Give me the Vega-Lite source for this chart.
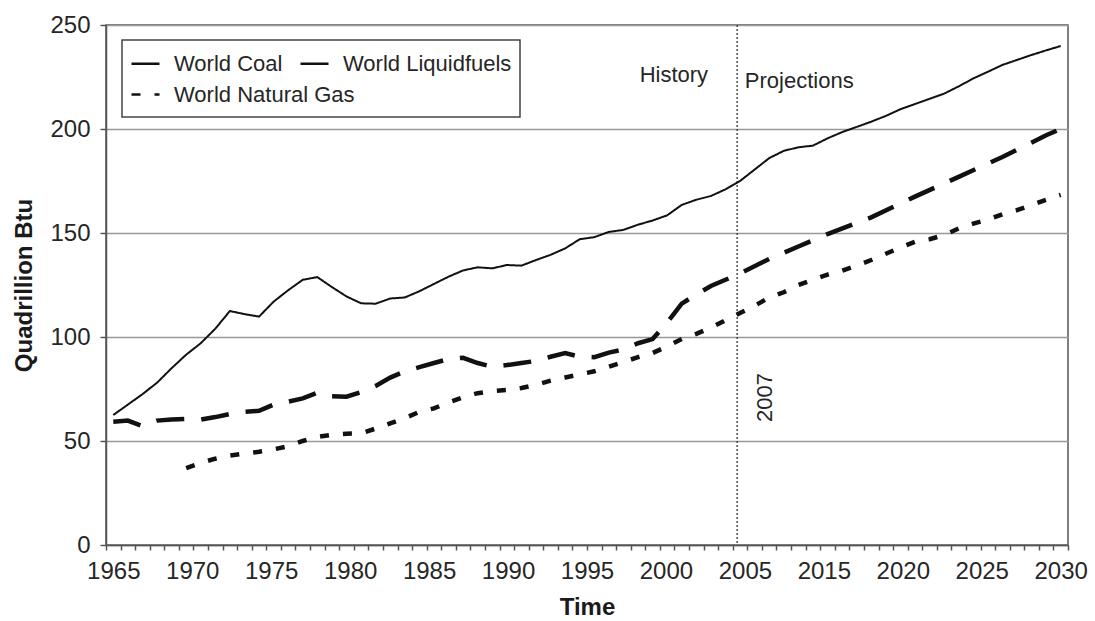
{
  "$schema": "https://vega.github.io/schema/vega-lite/v6.json",
  "width": 962,
  "height": 520,
  "autosize": {"type": "none"},
  "padding": {"left": 106, "top": 25, "right": 27, "bottom": 76},
  "background": "white",
  "config": {
    "font": "Liberation Sans",
    "view": {"stroke": "#555", "strokeWidth": 1.5},
    "axis": {
      "domainColor": "#555", "domainWidth": 1.5, "tickColor": "#555", "tickWidth": 1.5,
      "labelFont": "Liberation Sans", "labelFontSize": 24, "labelColor": "#262626",
      "titleFont": "Liberation Sans", "titleFontSize": 24, "titleFontWeight": "bold", "titleColor": "#1a1a1a",
      "gridColor": "#999", "gridWidth": 1.5
    },
    "legend": {
      "orient": "none", "direction": "horizontal", "strokeWidth": 1.5,
      "columnPadding": 12, "rowPadding": 5, "padding": 8,
      "labelFont": "Liberation Sans", "labelFontSize": 22, "labelColor": "#262626", "labelOffset": 13, "labelLimit": 400,
      "symbolType": "stroke", "symbolSize": 784, "symbolStrokeWidth": 2.5, "symbolStrokeColor": "#111"
    }
  },
  "datasets": {
    "energy": [
      {"year":1965,"series":"World Liquidfuels","value":62.5},{"year":1966,"series":"World Liquidfuels","value":67.5},{"year":1967,"series":"World Liquidfuels","value":72.5},{"year":1968,"series":"World Liquidfuels","value":78},{"year":1969,"series":"World Liquidfuels","value":85},{"year":1970,"series":"World Liquidfuels","value":91.5},{"year":1971,"series":"World Liquidfuels","value":97},{"year":1972,"series":"World Liquidfuels","value":104},{"year":1973,"series":"World Liquidfuels","value":112.5},{"year":1974,"series":"World Liquidfuels","value":111},{"year":1975,"series":"World Liquidfuels","value":109.8},{"year":1976,"series":"World Liquidfuels","value":117},{"year":1977,"series":"World Liquidfuels","value":122.5},{"year":1978,"series":"World Liquidfuels","value":127.5},{"year":1979,"series":"World Liquidfuels","value":128.8},{"year":1980,"series":"World Liquidfuels","value":124},{"year":1981,"series":"World Liquidfuels","value":119.5},{"year":1982,"series":"World Liquidfuels","value":116.2},{"year":1983,"series":"World Liquidfuels","value":116},{"year":1984,"series":"World Liquidfuels","value":118.5},{"year":1985,"series":"World Liquidfuels","value":119},{"year":1986,"series":"World Liquidfuels","value":122},{"year":1987,"series":"World Liquidfuels","value":125.5},{"year":1988,"series":"World Liquidfuels","value":129},{"year":1989,"series":"World Liquidfuels","value":132},{"year":1990,"series":"World Liquidfuels","value":133.5},{"year":1991,"series":"World Liquidfuels","value":133},{"year":1992,"series":"World Liquidfuels","value":134.6},{"year":1993,"series":"World Liquidfuels","value":134.3},{"year":1994,"series":"World Liquidfuels","value":137},{"year":1995,"series":"World Liquidfuels","value":139.5},{"year":1996,"series":"World Liquidfuels","value":142.6},{"year":1997,"series":"World Liquidfuels","value":147},{"year":1998,"series":"World Liquidfuels","value":148},{"year":1999,"series":"World Liquidfuels","value":150.5},{"year":2000,"series":"World Liquidfuels","value":151.5},{"year":2001,"series":"World Liquidfuels","value":154},{"year":2002,"series":"World Liquidfuels","value":156},{"year":2003,"series":"World Liquidfuels","value":158.5},{"year":2004,"series":"World Liquidfuels","value":163.5},{"year":2005,"series":"World Liquidfuels","value":166},{"year":2006,"series":"World Liquidfuels","value":167.8},{"year":2007,"series":"World Liquidfuels","value":171},{"year":2008,"series":"World Liquidfuels","value":175},{"year":2009,"series":"World Liquidfuels","value":180.5},{"year":2010,"series":"World Liquidfuels","value":186},{"year":2011,"series":"World Liquidfuels","value":189.5},{"year":2012,"series":"World Liquidfuels","value":191.2},{"year":2013,"series":"World Liquidfuels","value":192},{"year":2014,"series":"World Liquidfuels","value":195.5},{"year":2015,"series":"World Liquidfuels","value":198.5},{"year":2016,"series":"World Liquidfuels","value":201},{"year":2017,"series":"World Liquidfuels","value":203.5},{"year":2018,"series":"World Liquidfuels","value":206.3},{"year":2019,"series":"World Liquidfuels","value":209.5},{"year":2020,"series":"World Liquidfuels","value":212},{"year":2021,"series":"World Liquidfuels","value":214.5},{"year":2022,"series":"World Liquidfuels","value":217},{"year":2023,"series":"World Liquidfuels","value":220.5},{"year":2024,"series":"World Liquidfuels","value":224.3},{"year":2025,"series":"World Liquidfuels","value":227.5},{"year":2026,"series":"World Liquidfuels","value":230.8},{"year":2027,"series":"World Liquidfuels","value":233.2},{"year":2028,"series":"World Liquidfuels","value":235.6},{"year":2029,"series":"World Liquidfuels","value":237.8},{"year":2030,"series":"World Liquidfuels","value":239.9},
      {"year":1965,"series":"World Coal","value":59.3},{"year":1966,"series":"World Coal","value":59.8},{"year":1967,"series":"World Coal","value":57.2},{"year":1968,"series":"World Coal","value":59.8},{"year":1969,"series":"World Coal","value":60.3},{"year":1970,"series":"World Coal","value":60.6},{"year":1971,"series":"World Coal","value":60.3},{"year":1972,"series":"World Coal","value":61.5},{"year":1973,"series":"World Coal","value":63},{"year":1974,"series":"World Coal","value":64},{"year":1975,"series":"World Coal","value":64.5},{"year":1976,"series":"World Coal","value":67.5},{"year":1977,"series":"World Coal","value":68.9},{"year":1978,"series":"World Coal","value":70.5},{"year":1979,"series":"World Coal","value":73.2},{"year":1980,"series":"World Coal","value":71.5},{"year":1981,"series":"World Coal","value":71.3},{"year":1982,"series":"World Coal","value":73.5},{"year":1983,"series":"World Coal","value":76.5},{"year":1984,"series":"World Coal","value":80.5},{"year":1985,"series":"World Coal","value":83.5},{"year":1986,"series":"World Coal","value":85.5},{"year":1987,"series":"World Coal","value":87.5},{"year":1988,"series":"World Coal","value":89.4},{"year":1989,"series":"World Coal","value":90},{"year":1990,"series":"World Coal","value":87.5},{"year":1991,"series":"World Coal","value":85.7},{"year":1992,"series":"World Coal","value":86.5},{"year":1993,"series":"World Coal","value":87.5},{"year":1994,"series":"World Coal","value":88.5},{"year":1995,"series":"World Coal","value":90.5},{"year":1996,"series":"World Coal","value":92.3},{"year":1997,"series":"World Coal","value":90.5},{"year":1998,"series":"World Coal","value":90.3},{"year":1999,"series":"World Coal","value":92.5},{"year":2000,"series":"World Coal","value":94},{"year":2001,"series":"World Coal","value":97},{"year":2002,"series":"World Coal","value":99},{"year":2003,"series":"World Coal","value":107},{"year":2004,"series":"World Coal","value":116},{"year":2005,"series":"World Coal","value":120.5},{"year":2006,"series":"World Coal","value":124.5},{"year":2007,"series":"World Coal","value":127.5},{"year":2008,"series":"World Coal","value":130.6},{"year":2010,"series":"World Coal","value":137.5},{"year":2012,"series":"World Coal","value":143.5},{"year":2014,"series":"World Coal","value":149.5},{"year":2017,"series":"World Coal","value":157.5},{"year":2020,"series":"World Coal","value":167.5},{"year":2023,"series":"World Coal","value":177},{"year":2026,"series":"World Coal","value":186.5},{"year":2029,"series":"World Coal","value":197},{"year":2030,"series":"World Coal","value":200},
      {"year":1970,"series":"World Natural Gas","value":37},{"year":1971,"series":"World Natural Gas","value":39.5},{"year":1972,"series":"World Natural Gas","value":41.5},{"year":1973,"series":"World Natural Gas","value":43},{"year":1974,"series":"World Natural Gas","value":44},{"year":1975,"series":"World Natural Gas","value":44.8},{"year":1976,"series":"World Natural Gas","value":46},{"year":1977,"series":"World Natural Gas","value":47.5},{"year":1978,"series":"World Natural Gas","value":50},{"year":1979,"series":"World Natural Gas","value":52},{"year":1980,"series":"World Natural Gas","value":53},{"year":1981,"series":"World Natural Gas","value":53.5},{"year":1982,"series":"World Natural Gas","value":53.7},{"year":1983,"series":"World Natural Gas","value":56},{"year":1984,"series":"World Natural Gas","value":58.5},{"year":1985,"series":"World Natural Gas","value":61},{"year":1986,"series":"World Natural Gas","value":64},{"year":1987,"series":"World Natural Gas","value":65.7},{"year":1988,"series":"World Natural Gas","value":68.5},{"year":1989,"series":"World Natural Gas","value":71},{"year":1990,"series":"World Natural Gas","value":73},{"year":1991,"series":"World Natural Gas","value":74},{"year":1992,"series":"World Natural Gas","value":74.5},{"year":1993,"series":"World Natural Gas","value":75.5},{"year":1994,"series":"World Natural Gas","value":77},{"year":1995,"series":"World Natural Gas","value":79},{"year":1996,"series":"World Natural Gas","value":80.5},{"year":1997,"series":"World Natural Gas","value":82},{"year":1998,"series":"World Natural Gas","value":83.5},{"year":1999,"series":"World Natural Gas","value":85.7},{"year":2000,"series":"World Natural Gas","value":88},{"year":2001,"series":"World Natural Gas","value":90.3},{"year":2002,"series":"World Natural Gas","value":92.3},{"year":2003,"series":"World Natural Gas","value":95.5},{"year":2004,"series":"World Natural Gas","value":99},{"year":2005,"series":"World Natural Gas","value":101.5},{"year":2006,"series":"World Natural Gas","value":104.5},{"year":2007,"series":"World Natural Gas","value":108},{"year":2008,"series":"World Natural Gas","value":111.5},{"year":2009,"series":"World Natural Gas","value":115},{"year":2010,"series":"World Natural Gas","value":119},{"year":2011,"series":"World Natural Gas","value":121.5},{"year":2012,"series":"World Natural Gas","value":125},{"year":2013,"series":"World Natural Gas","value":127.5},{"year":2014,"series":"World Natural Gas","value":130},{"year":2015,"series":"World Natural Gas","value":131.9},{"year":2016,"series":"World Natural Gas","value":134.3},{"year":2017,"series":"World Natural Gas","value":137},{"year":2018,"series":"World Natural Gas","value":140},{"year":2019,"series":"World Natural Gas","value":143},{"year":2020,"series":"World Natural Gas","value":145.8},{"year":2021,"series":"World Natural Gas","value":147},{"year":2022,"series":"World Natural Gas","value":149},{"year":2023,"series":"World Natural Gas","value":152.2},{"year":2024,"series":"World Natural Gas","value":154.5},{"year":2025,"series":"World Natural Gas","value":156.5},{"year":2026,"series":"World Natural Gas","value":159},{"year":2027,"series":"World Natural Gas","value":161},{"year":2028,"series":"World Natural Gas","value":163.5},{"year":2029,"series":"World Natural Gas","value":166},{"year":2030,"series":"World Natural Gas","value":168.3}
    ],
    "divider": [{"year": 2007.8}],
    "notes": [
      {"label": "History", "year": 2003.46, "value": 222.6},
      {"label": "Projections", "year": 2012.06, "value": 219.7}
    ],
    "yearNote": [{"label": "2007", "year": 2009.7, "value": 70.9}]
  },
  "layer": [
    {
      "data": {"name": "divider"},
      "mark": {"type": "rule", "strokeDash": [2, 2], "color": "#333", "strokeWidth": 1.3},
      "encoding": {
        "x": {
          "field": "year", "type": "quantitative",
          "scale": {"domain": [1964.5, 2030.5], "nice": false, "zero": false},
          "axis": {
            "orient": "bottom",
            "values": [1965, 1970.41667, 1975.83333, 1981.25, 1986.66667, 1992.08333, 1997.5, 2002.91667, 2008.33333, 2013.75, 2019.16667, 2024.58333, 2030],
            "labelExpr": "['1965','1970','1975','1980','1985','1990','1995','2000','2005','2015','2020','2025','2030'][round((datum.value-1965)*12/65)]",
            "ticks": false, "domain": false, "grid": false,
            "labelPadding": 14, "labelFlush": false, "labelOverlap": false,
            "title": "Time", "titlePadding": 12
          }
        }
      }
    },
    {
      "data": {"name": "energy"},
      "transform": [{"filter": "datum.series !== 'World Natural Gas'"}],
      "mark": {"type": "line", "strokeCap": "butt", "color": "#111"},
      "encoding": {
        "x": {
          "field": "year", "type": "quantitative",
          "scale": {"domain": [1964.5, 2030.5], "nice": false, "zero": false},
          "axis": {
            "orient": "bottom",
            "values": [1964.5,1965.5,1966.5,1967.5,1968.5,1969.5,1970.5,1971.5,1972.5,1973.5,1974.5,1975.5,1976.5,1977.5,1978.5,1979.5,1980.5,1981.5,1982.5,1983.5,1984.5,1985.5,1986.5,1987.5,1988.5,1989.5,1990.5,1991.5,1992.5,1993.5,1994.5,1995.5,1996.5,1997.5,1998.5,1999.5,2000.5,2001.5,2002.5,2003.5,2004.5,2005.5,2006.5,2007.5,2008.5,2009.5,2010.5,2011.5,2012.5,2013.5,2014.5,2015.5,2016.5,2017.5,2018.5,2019.5,2020.5,2021.5,2022.5,2023.5,2024.5,2025.5,2026.5,2027.5,2028.5,2029.5,2030.5],
            "labels": false, "title": null, "grid": false, "tickSize": 5
          }
        },
        "y": {
          "field": "value", "type": "quantitative",
          "scale": {"domain": [0, 250], "nice": false},
          "axis": {"orient": "left", "values": [0, 50, 100, 150, 200, 250], "title": "Quadrillion Btu", "grid": true, "tickSize": 6, "labelPadding": 10, "titlePadding": 13}
        },
        "strokeDash": {
          "field": "series", "type": "nominal",
          "scale": {"domain": ["World Coal", "World Liquidfuels"], "range": [[28, 17], [1, 0]]},
          "legend": {
            "title": " ", "titleOrient": "bottom", "titleFontSize": 26, "titlePadding": 8,
            "direction": "horizontal", "orient": "none", "legendX": 16, "legendY": 15,
            "strokeColor": "#444", "padding": 8
          }
        },
        "strokeWidth": {"condition": {"test": "datum.series === 'World Liquidfuels'", "value": 2}, "value": 4.5}
      }
    },
    {
      "data": {"name": "energy"},
      "transform": [{"filter": "datum.series === 'World Natural Gas'"}],
      "mark": {"type": "line", "strokeCap": "butt", "color": "#111", "strokeWidth": 4.5},
      "encoding": {
        "x": {"field": "year", "type": "quantitative", "axis": null},
        "y": {"field": "value", "type": "quantitative", "axis": null},
        "strokeDash": {
          "field": "series", "type": "nominal",
          "scale": {"domain": ["World Natural Gas"], "range": [[9, 14]]},
          "legend": {"title": null, "orient": "none", "legendX": 16, "legendY": 46, "padding": 8}
        }
      }
    },
    {
      "data": {"name": "notes"},
      "mark": {"type": "text", "fontSize": 22, "font": "Liberation Sans", "color": "#262626", "align": "center", "baseline": "alphabetic"},
      "encoding": {
        "x": {"field": "year", "type": "quantitative", "axis": null},
        "y": {"field": "value", "type": "quantitative", "axis": null},
        "text": {"field": "label"}
      }
    },
    {
      "data": {"name": "yearNote"},
      "mark": {"type": "text", "fontSize": 22, "font": "Liberation Sans", "color": "#262626", "align": "center", "baseline": "middle", "angle": 270},
      "encoding": {
        "x": {"field": "year", "type": "quantitative", "axis": null},
        "y": {"field": "value", "type": "quantitative", "axis": null},
        "text": {"field": "label"}
      }
    }
  ],
  "resolve": {
    "axis": {"x": "independent", "y": "independent"},
    "scale": {"strokeDash": "independent"},
    "legend": {"strokeDash": "independent"}
  }
}
